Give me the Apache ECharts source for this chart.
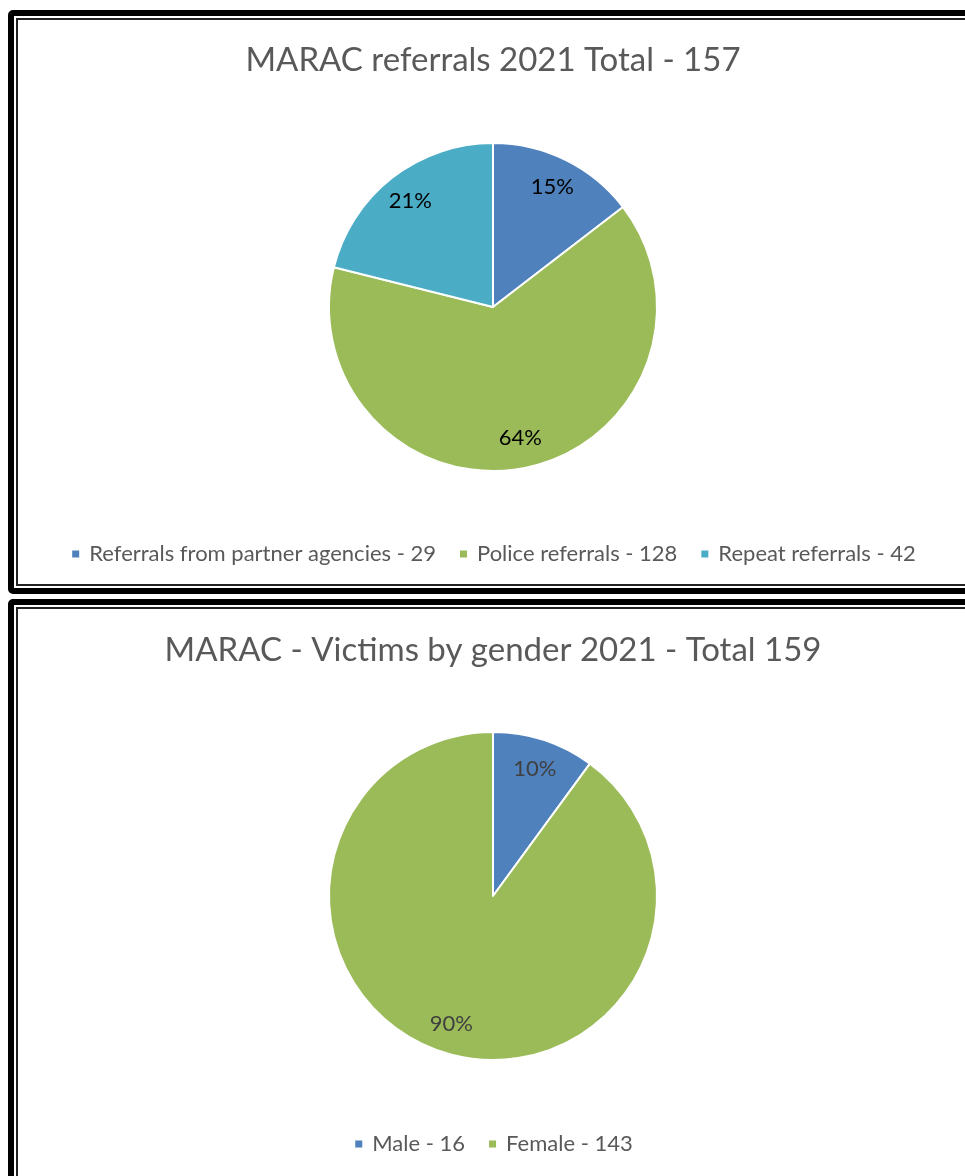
<!DOCTYPE html>
<html>
<head>
<meta charset="utf-8">
<script src="https://cdn.jsdelivr.net/npm/echarts@6/dist/echarts.min.js"></script>
<style>
  html, body {
    margin: 0;
    padding: 0;
    background: #fff;
    width: 965px;
    height: 1176px;
    overflow: hidden;
    position: relative;
  }
  .box {
    position: absolute;
    left: 8px;
    width: 1000px;
    box-sizing: border-box;
    border: 6px solid #000;
    border-radius: 5px;
    box-shadow: inset 0 0 0 2px #fff, inset 0 0 0 4px #222;
  }
  #box1 { top: 10px; height: 584px; }
  #box2 { top: 599px; height: 700px; }
  /* chart is wider than the window: the boxes run past the right edge */
  #main {
    position: absolute;
    left: 0;
    top: 0;
    width: 986px;
    height: 1176px;
    z-index: 2;
  }
</style>
</head>
<body>
<div class="box" id="box1"></div>
<div class="box" id="box2"></div>
<div id="main"></div>

<script>
// data
var referralTitle = 'MARAC referrals 2021 Total - 157';
var referralCats = ['Referrals from partner agencies', 'Police referrals', 'Repeat referrals'];
var referralValues = [29, 128, 42];

var genderTitle = 'MARAC - Victims by gender 2021 - Total 159';
var genderCats = ['Male', 'Female'];
var genderValues = [16, 143];

var colors = ['#4F81BD', '#9BBB59', '#4BACC6'];
var fontFamily = 'Lato, "Noto Sans", sans-serif';

function toPieData(cats, values) {
  return cats.map(function (c, i) {
    return { name: c + ' - ' + values[i], value: values[i] };
  });
}

var referralData = toPieData(referralCats, referralValues);
var genderData = toPieData(genderCats, genderValues);

var R = 164;

// main pie (no labels) + transparent ring on top for the percent labels
function pieSeries(data, center) {
  return {
    type: 'pie',
    center: center,
    radius: R,
    startAngle: 90,
    clockwise: true,
    data: data,
    label: { show: false },
    labelLine: { show: false },
    itemStyle: { borderColor: '#fff', borderWidth: 2 },
    emphasis: { scale: false }
  };
}

function labelSeries(data, center, textColor) {
  return {
    type: 'pie',
    center: center,
    radius: [R * 0.6, R],
    startAngle: 90,
    clockwise: true,
    silent: true,
    percentPrecision: 0,
    data: data,
    itemStyle: { color: 'rgba(0,0,0,0)', borderWidth: 0 },
    label: {
      show: true,
      position: 'inside',
      formatter: '{d}%',
      color: textColor,
      fontSize: 22,
      fontFamily: fontFamily
    },
    labelLine: { show: false },
    emphasis: { disabled: true }
  };
}

function legendOpt(data, top) {
  return {
    data: data.map(function (d) { return d.name; }),
    left: 'center',
    top: top,
    padding: [5, 0, 5, 10],
    icon: 'rect',
    itemWidth: 9,
    itemHeight: 9,
    itemGap: 22,
    textStyle: { fontSize: 22, color: '#595959', fontFamily: fontFamily, padding: [0, 0, 0, 4] }
  };
}

var myChart = echarts.init(document.getElementById('main'));
var option = {
  color: colors,
  animation: false,
  title: [
    {
      text: referralTitle,
      left: 'center',
      top: 39,
      textStyle: { fontSize: 33, fontWeight: 'normal', color: '#595959', fontFamily: fontFamily }
    },
    {
      text: genderTitle,
      left: 'center',
      top: 629,
      textStyle: { fontSize: 33, fontWeight: 'normal', color: '#595959', fontFamily: fontFamily }
    }
  ],
  legend: [
    legendOpt(referralData, 538),
    legendOpt(genderData, 1128)
  ],
  series: [
    pieSeries(referralData, [493, 307]),
    pieSeries(genderData, [493, 896]),
    labelSeries(referralData, [493, 307], '#000'),
    labelSeries(genderData, [493, 896], '#404040')
  ]
};
myChart.setOption(option);
</script>
</body>
</html>
